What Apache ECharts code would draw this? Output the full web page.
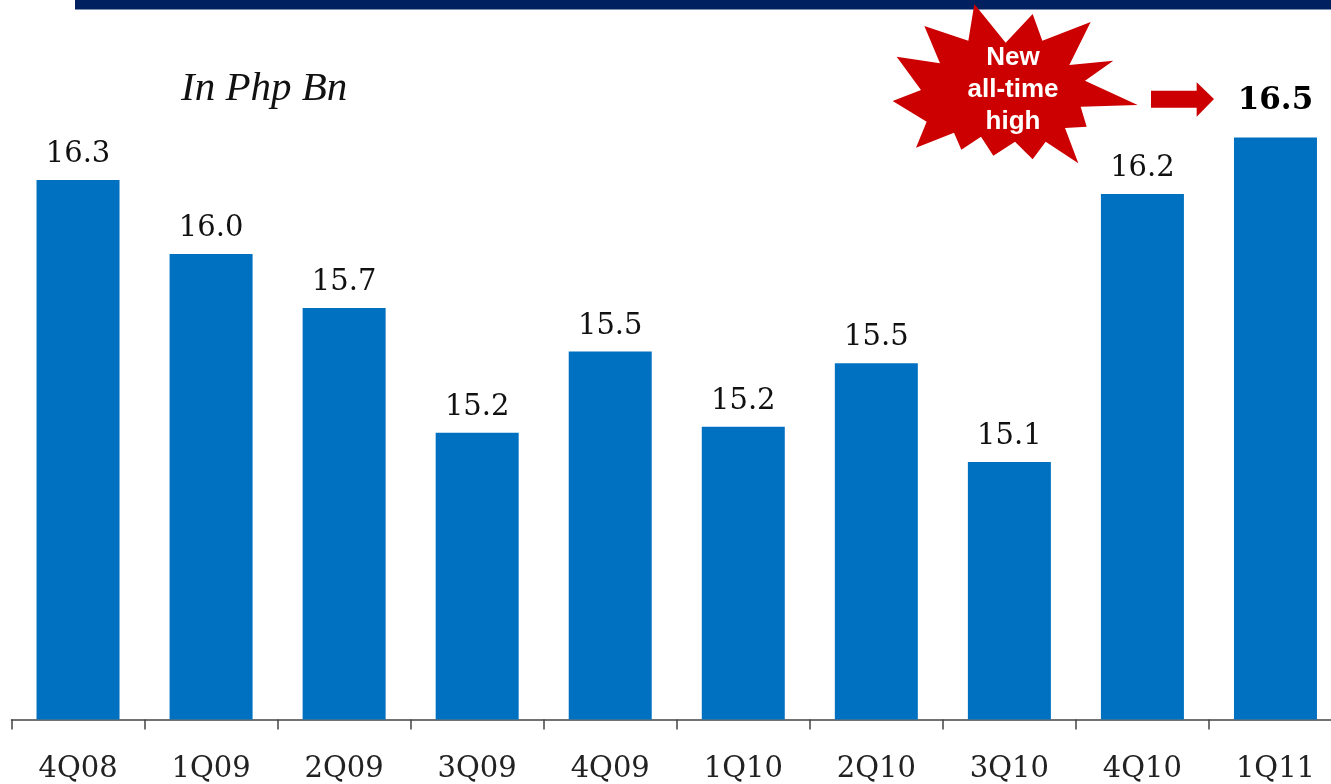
<!DOCTYPE html>
<html>
<head>
<meta charset="utf-8">
<style>html,body{margin:0;padding:0;background:#fff;overflow:hidden}#c{width:1331px;height:784px}</style>
<script src="https://cdn.jsdelivr.net/npm/echarts@6/dist/echarts.min.js"></script>
</head>
<body>
<div id="c"></div>
<script>
const categories = ['4Q08','1Q09','2Q09','3Q09','4Q09','1Q10','2Q10','3Q10','4Q10','1Q11'];
const barHeights = [16.295,15.98,15.75,15.22,15.565,15.245,15.515,15.095,16.235,16.475];
const valueLabels = ['16.3','16.0','15.7','15.2','15.5','15.2','15.5','15.1','16.2','16.5'];
const titleText = 'In Php Bn';
const burstLines = 'New\nall-time\nhigh';

const serif = '"DejaVu Serif"';
const Z = (x, y) => [880 + x / 3, y / 3];
const star = [[283,12],[377,128],[458,42],[487,122],[632,66],[568,195],[700,182],[615,242],[773,315],[602,320],[620,380],[555,384],[595,490],[497,425],[458,478],[405,425],[340,467],[303,410],[244,449],[222,398],[108,443],[140,365],[38,303],[123,270],[50,170],[180,190],[133,78],[265,122]].map(p => Z(p[0], p[1]));
const arrow = [[813,272],[950,272],[950,247],[1002,297],[950,350],[950,323],[813,323]].map(p => Z(p[0], p[1]));

const chart = echarts.init(document.getElementById('c'), null, {renderer:'canvas'});
chart.setOption({
  animation:false,
  backgroundColor:'#fff',
  title:{text:titleText,left:181,top:69,textStyle:{fontFamily:'"Liberation Serif"',fontStyle:'italic',fontWeight:'normal',fontSize:41,color:'#111'},padding:0},
  grid:{left:11.5,top:0,width:1330.5,height:719.5,containLabel:false,outerBoundsMode:'none'},
  xAxis:{type:'category',data:categories,
    axisLine:{lineStyle:{color:'#444',width:1.5}},
    axisTick:{show:true,length:10,alignWithLabel:false,lineStyle:{color:'#444',width:1.5}},
    axisLabel:{interval:0,margin:35,fontFamily:serif,fontSize:29,color:'#222',hideOverlap:false}},
  yAxis:{type:'value',min:14,max:17.06,show:false,splitLine:{show:false}},
  series:[{type:'bar',barWidth:83,
    itemStyle:{color:'#0070c0'},
    data:barHeights.map((v,i)=>({value:v,
      label: i===9 ? {fontWeight:'bold',distance:21,color:'#000',fontSize:31} : {}})),
    label:{show:true,position:'top',distance:11,fontFamily:serif,fontSize:29,color:'#111',
      formatter:p=>valueLabels[p.dataIndex]}}],
  graphic:[
    {type:'rect',shape:{x:75,y:0,width:1256,height:9.5},style:{fill:'#002060'},z:1},
    {type:'polygon',shape:{points:star},style:{fill:'#cc0000'},z:5},
    {type:'polygon',shape:{points:arrow},style:{fill:'#cc0000'},z:5},
    {type:'text',x:1013,y:90,z:6,style:{text:burstLines,fill:'#fff',font:'bold 26px "Liberation Sans"',align:'center',verticalAlign:'middle',lineHeight:32}}
  ]
});
</script>
</body>
</html>
